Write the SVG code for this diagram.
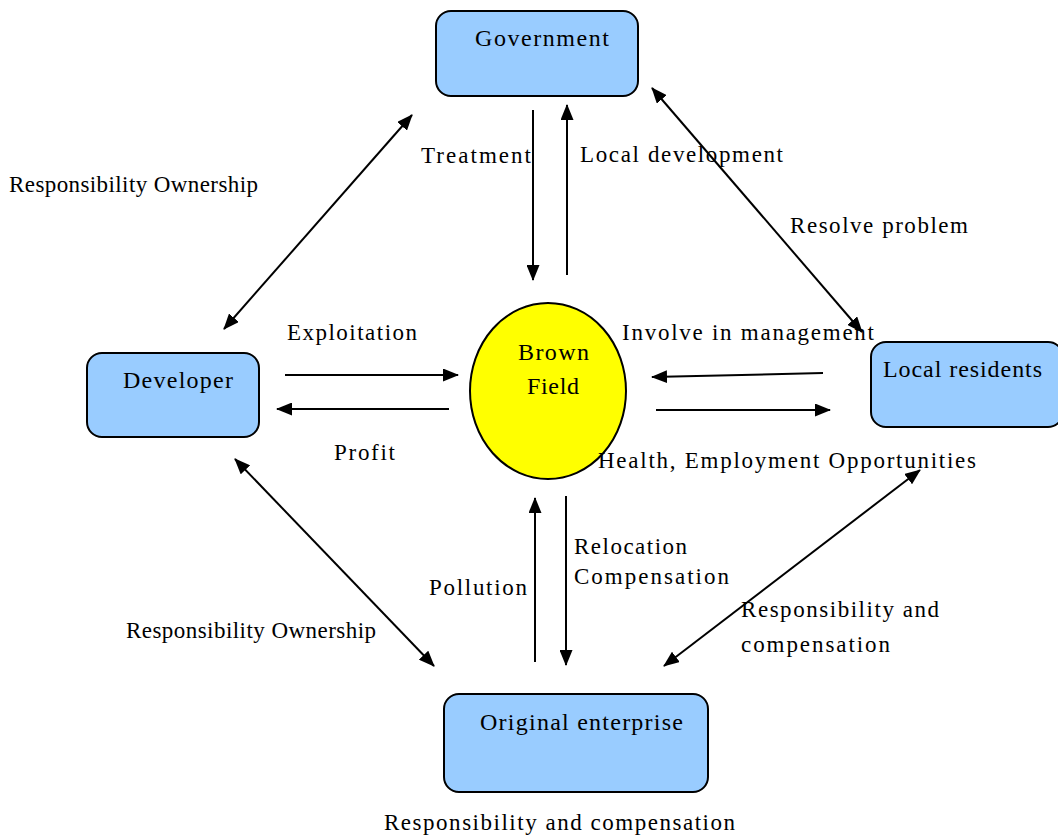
<svg xmlns="http://www.w3.org/2000/svg" width="1058" height="837" viewBox="0 0 1058 837">
<style>
.node{fill:#99ccff;stroke:#000;stroke-width:2}
.t{font-family:"Liberation Serif","DejaVu Serif",serif;fill:#000}
.n{font-size:24px}
.l{font-size:23px}
.c{stroke:#000;stroke-width:2;fill:none}
</style>
<defs>
<marker id="a" viewBox="0 0 16 13" refX="15" refY="6.5" markerWidth="16" markerHeight="13" markerUnits="userSpaceOnUse" orient="auto-start-reverse">
<path d="M0,0 L16,6.5 L0,13 z" fill="#000"/>
</marker>
</defs>
<rect width="1058" height="837" fill="#fff"/>
<g id="connectors">
<line class="c" x1="533" y1="110" x2="533" y2="280" marker-end="url(#a)"/>
<line class="c" x1="567" y1="275" x2="567" y2="105" marker-end="url(#a)"/>
<line class="c" x1="652" y1="88" x2="862" y2="332" marker-start="url(#a)" marker-end="url(#a)"/>
<line class="c" x1="412" y1="115" x2="224" y2="329" marker-start="url(#a)" marker-end="url(#a)"/>
<line class="c" x1="285" y1="375" x2="458" y2="375" marker-end="url(#a)"/>
<line class="c" x1="449" y1="409" x2="277" y2="409" marker-end="url(#a)"/>
<line class="c" x1="823" y1="373" x2="652" y2="377" marker-end="url(#a)"/>
<line class="c" x1="656" y1="410" x2="830" y2="410" marker-end="url(#a)"/>
<line class="c" x1="235" y1="459" x2="434" y2="666" marker-start="url(#a)" marker-end="url(#a)"/>
<line class="c" x1="920" y1="470" x2="664" y2="666" marker-start="url(#a)" marker-end="url(#a)"/>
<line class="c" x1="535" y1="662" x2="535" y2="498" marker-end="url(#a)"/>
<line class="c" x1="566" y1="496" x2="566" y2="665" marker-end="url(#a)"/>
</g>
<g id="government">
<rect class="node" x="436" y="11" width="202" height="85" rx="15"/>
<text class="t n" x="475" y="46" textLength="134">Government</text>
</g>
<g id="developer">
<rect class="node" x="87" y="353" width="172" height="84" rx="15"/>
<text class="t n" x="123" y="388" textLength="110">Developer</text>
</g>
<g id="local-residents">
<rect class="node" x="871" y="342" width="192" height="85" rx="15"/>
<text class="t n" x="883" y="377" textLength="159">Local residents</text>
</g>
<g id="original-enterprise">
<rect class="node" x="444" y="694" width="264" height="98" rx="15"/>
<text class="t n" x="480" y="730" textLength="203">Original enterprise</text>
</g>
<g id="brown-field">
<ellipse cx="548" cy="391" rx="78" ry="88" fill="#ffff00" stroke="#000" stroke-width="2"/>
<text class="t n" x="518" y="360" textLength="71">Brown</text>
<text class="t n" x="527" y="394" textLength="52">Field</text>
</g>
<g id="labels">
<text class="t l" x="9" y="192" textLength="249">Responsibility Ownership</text>
<text class="t l" x="421" y="163" textLength="110">Treatment</text>
<text class="t l" x="580" y="162" textLength="203">Local development</text>
<text class="t l" x="790" y="233" textLength="178">Resolve problem</text>
<text class="t l" x="287" y="340" textLength="130">Exploitation</text>
<text class="t l" x="622" y="340" textLength="252">Involve in management</text>
<text class="t l" x="334" y="460" textLength="61">Profit</text>
<text class="t l" x="598" y="468" textLength="378">Health, Employment Opportunities</text>
<text class="t l" x="574" y="554" textLength="113">Relocation</text>
<text class="t l" x="574" y="584" textLength="155">Compensation</text>
<text class="t l" x="429" y="595" textLength="98">Pollution</text>
<text class="t l" x="126" y="638" textLength="250">Responsibility Ownership</text>
<text class="t l" x="741" y="617" textLength="198">Responsibility and</text>
<text class="t l" x="741" y="652" textLength="149">compensation</text>
<text class="t l" x="384" y="830" textLength="351">Responsibility and compensation</text>
</g>
</svg>
